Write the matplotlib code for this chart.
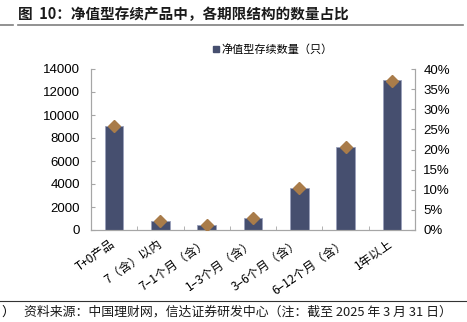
import matplotlib
matplotlib.use("Agg")
import matplotlib.pyplot as plt
from matplotlib.lines import Line2D
import numpy as np

plt.rcParams['font.family'] = ['Liberation Sans', 'Noto Sans CJK SC', 'DejaVu Sans']

categories = ['T+0产品', '7（含）以内', '7–1个月（含）', '1–3个月（含）',
              '3–6个月（含）', '6–12个月（含）', '1年以上']
counts = [9030, 760, 430, 1010, 3640, 7200, 13000]
shares = [25.8, 2.2, 1.25, 2.9, 10.4, 20.6, 37.1]

bar_col = '#464F6F'
dot_col = '#A97C4A'
spine_col = '#A6A6A6'

fig = plt.figure(figsize=(4.67, 3.22), dpi=100, facecolor='white')
ax = fig.add_axes([91/467, 1-230/322, (415-91)/467, (230-69)/322])
ax2 = ax.twinx()

x = np.arange(len(categories))
ax.bar(x, counts, width=0.4, color=bar_col, edgecolor='#9AA1BB', linewidth=0.6,
       label='净值型存续数量（只）', zorder=2)
ax2.plot(x, shares, linestyle='none', marker='D', markersize=6.5,
         color=dot_col, markeredgecolor=dot_col, zorder=3)

ax.set_xlim(-0.5, len(categories) - 0.5)
ax.set_ylim(0, 14000)
ax.set_yticks(np.arange(0, 14001, 2000))
ax2.set_ylim(0, 40)
ax2.set_yticks(np.arange(0, 41, 5))
ax2.set_yticklabels([f'{v}%' for v in range(0, 41, 5)])

ax.set_xticks(x)
ax.set_xticklabels(categories, rotation=35, ha='right', va='center',
                   rotation_mode='anchor', fontsize=8.7,
                   family=['Noto Sans CJK SC', 'DejaVu Sans'])
ax.tick_params(axis='x', length=0, pad=9)
ax.set_xticks(np.arange(-0.5, len(categories), 1), minor=True)
ax.tick_params(axis='x', which='minor', direction='in', length=3, color=spine_col)

ax.tick_params(axis='y', direction='in', length=3, color=spine_col, labelsize=9.5, pad=8)
ax2.tick_params(axis='y', direction='in', length=3, color=spine_col, labelsize=9.5, pad=6)

for a in (ax, ax2):
    a.spines['top'].set_visible(False)
    for s in ('left', 'right', 'bottom'):
        a.spines[s].set_color(spine_col)
        a.spines[s].set_linewidth(0.8)

# legend (bar only)
fig.legend(handles=[Line2D([], [], linestyle='none', marker='s', markersize=5,
                           color=bar_col)],
           labels=['净值型存续数量（只）'], loc='center left',
           bbox_to_anchor=(200/467, 1-49/322), frameon=False,
           handletextpad=0.0, handlelength=1.0,
           prop={'family': ['Noto Sans CJK SC', 'DejaVu Sans'], 'size': 8})

# title and rules
fig.text(18/467, 1-14/322, '图  10：净值型存续产品中，各期限结构的数量占比',
         fontsize=10.5, fontweight='bold', color='#1A1A1A', va='center',
         family=['Noto Sans CJK SC', 'DejaVu Sans'])
fig.add_artist(Line2D([18/467, 463/467], [1-24.5/322, 1-24.5/322],
                      color='#7F7F7F', linewidth=1.2))
fig.add_artist(Line2D([0, 13/467], [1-24.5/322, 1-24.5/322],
                      color='#7F7F7F', linewidth=1.2))

# footer
fig.add_artist(Line2D([0, 1], [1-301/322, 1-301/322], color='#333333', linewidth=0.8))
fig.text(1/467, 1-312/322, '）', fontsize=9.3, va='center', style='italic',
         family=['Noto Sans CJK SC', 'DejaVu Sans'])
fig.text(24/467, 1-312/322,
         '资料来源：中国理财网，信达证券研发中心（注：截至 2025 年 3 月 31 日）',
         fontsize=9.3, va='center', style='italic', color='#1A1A1A',
         family=['Noto Sans CJK SC', 'DejaVu Sans'])

fig.savefig('out.png', dpi=100, facecolor='white')
